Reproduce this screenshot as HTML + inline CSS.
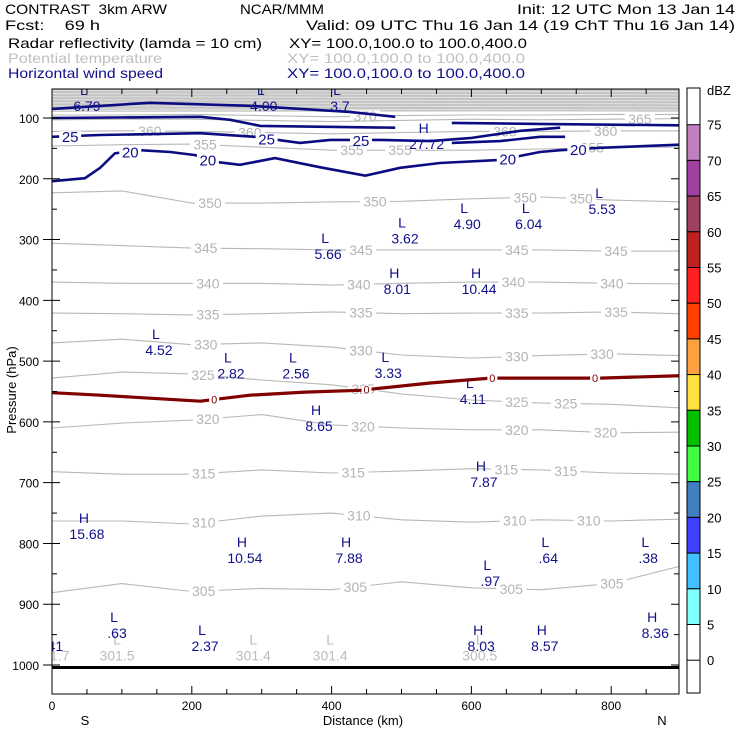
<!DOCTYPE html>
<html><head><meta charset="utf-8"><style>
html,body{margin:0;padding:0;background:#fff}
svg{display:block;font-family:"Liberation Sans",sans-serif}
text{white-space:pre}
</style></head><body>
<svg id="chart" width="740" height="740" viewBox="0 0 740 740" xmlns="http://www.w3.org/2000/svg">
<g font-size="14" fill="#000">
<text x="5" y="14" textLength="162" lengthAdjust="spacingAndGlyphs">CONTRAST  3km ARW</text>
<text x="240" y="14" textLength="84" lengthAdjust="spacingAndGlyphs">NCAR/MMM</text>
<text x="517" y="14" textLength="218" lengthAdjust="spacingAndGlyphs">Init: 12 UTC Mon 13 Jan 14</text>
<text x="5" y="30" textLength="95" lengthAdjust="spacingAndGlyphs">Fcst:    69 h</text>
<text x="306" y="30" textLength="429" lengthAdjust="spacingAndGlyphs">Valid: 09 UTC Thu 16 Jan 14 (19 ChT Thu 16 Jan 14)</text>
<text x="8" y="48" textLength="254" lengthAdjust="spacingAndGlyphs">Radar reflectivity (lamda = 10 cm)</text>
<text x="289" y="48" textLength="238" lengthAdjust="spacingAndGlyphs">XY= 100.0,100.0 to 100.0,400.0</text>
<text x="8" y="63" fill="#c0c0c0" textLength="154" lengthAdjust="spacingAndGlyphs">Potential temperature</text>
<text x="287" y="63" fill="#c0c0c0" textLength="238" lengthAdjust="spacingAndGlyphs">XY= 100.0,100.0 to 100.0,400.0</text>
<text x="8" y="78" fill="#10108c" textLength="155" lengthAdjust="spacingAndGlyphs">Horizontal wind speed</text>
<text x="287" y="78" fill="#10108c" textLength="238" lengthAdjust="spacingAndGlyphs">XY= 100.0,100.0 to 100.0,400.0</text>
</g>
<defs><clipPath id="plotclip"><rect x="52" y="89" width="627" height="605"/></clipPath></defs>
<g id="plot" clip-path="url(#plotclip)"></g>
<g id="axes"></g>
<g id="cbar"></g>
</svg>
<script>
// ---- data ----
const thetaD = [0,100,200,300,400,500,600,700,800,900];
const thetaLevels = [370,365,360,355,350,345,340,335,330,325,320,315,310,305];
const theta370 = [95,95,94,96,98,96,95,95,94,94];
const theta365 = [103,102,102,104,106,104,102,103,102,101];
const theta360 = [122,121,122,124,126,124,122,122,121,121];
const theta355 = [146,144,143,148,153,153,153,151,148,148];
const theta350 = [223,220,240,240,238,237,233,230,235,238];
const theta345 = [306,310,314,315,317,317,317,317,319,319];
const theta340 = [370,372,372,372,375,372,370,370,372,373];
const theta335 = [421,422,424,422,419,422,421,421,419,422];
const theta330 = [470,464,473,470,477,490,495,491,488,491];
const theta325 = [528,518,521,531,539,554,564,569,571,577];
const theta320 = [610,602,597,588,605,610,613,613,618,617];
const theta315 = [682,686,686,679,684,681,677,679,684,686];
const theta310 = [763,763,768,755,750,761,765,761,763,760];
const theta305 = [881,866,879,874,876,863,873,876,866,837];
const thetaLabelD = [[448],[841],[140,283,648,792],[219,429,498,773],[226,462,677,757],[220,442,665,807],[223,439,660,801],[223,442,665,807],[220,442,665,787],[216,445,665,735],[223,445,665,792],[217,431,650,735],[217,439,662,768],[217,434,657,801]];
const upperBandP = [55,60,65,70,75,80,85,88];
const wind20D = [0,47,69,90,126,169,205,233,269,319,383,448,498,555,641,698,727,784,898];
const wind20P = [204,199,182,158,153,156,161,172,177,166,181,195,182,174,169,156,153,149,144];
const wind20LabelD = [112,223,652,753];
const wind25D = [0,69,212,290,355,398,469,541,598,670,727];
const wind25P = [131,128,125,131,141,136,136,138,133,121,116];
const wind25LabelD = [26,307,442];
const wind30aD = [0,140,283,426,491];
const wind30aP = [85,75,80,90,98];
const wind30bD = [0,212,255,298,491];
const wind30bP = [100,98,103,113,116];
const wind30cD = [572,712,898];
const wind30cP = [108,110,112];
const wind30dD = [572,641,698,734];
const wind30dP = [141,138,131,131];
const dbz0D = [0,69,140,212,283,362,441,541,627,784,898];
const dbz0P = [552,556,561,566,556,551,548,536,528,528,524];
const dbz0LabelD = [232,450,630,777];
const surfaceP = 1004;
const extType = ["L","L","L","H","L","L","L","L","L","H","H","L","L","L","L","L","L","H","H","H","H","H","L","L","L","L","L","L","H","H","H"];
const extVal = ["6.79","4.00","3.7","27.72","5.53","6.04","4.90","3.62","5.66","8.01","10.44","62","4.52","2.82","2.56","3.33","4.11","8.65","7.87","15.68","10.54","7.88",".64",".38",".97",".63",".41","2.37","8.03","8.57","8.36"];
const extD = [50,303,412,536,787,682,594,505,395,494,611,-10,153,256,349,481,602,382,618,50,276,425,710,853,627,93,2,219,614,705,863];
const extP = [79,79,79,141,248,273,273,297,322,380,380,482,480,519,519,518,561,605,697,783,822,822,822,822,860,946,967,967,967,967,946];
const sfcVal = ["301.7","301.5","301.4","301.4","300.5"];
const sfcD = [0,93,288,398,612];
const sfcP = [983,983,983,983,983];
const pTicks = [100,200,300,400,500,600,700,800,900,1000];
const dTicks = [0,200,400,600,800];
const cbLevels = [75,70,65,60,55,50,45,40,35,30,25,20,15,10,5,0];
const cbColors = ["#c080c0","#a040a0","#a04060","#c02020","#ff2020","#ff4000","#ffa040","#ffe040","#00c000","#40ff40","#4080c0","#4040ff","#40c0ff","#80ffff","#ffffff"];

// ---- scales ----
const X = d => 52 + d*0.699;
const Y = p => 118 + (p-100)*0.6078;
const NS = "http://www.w3.org/2000/svg";
function mk(tag, parent, attrs){const e=document.createElementNS(NS,tag);for(const k in attrs)e.setAttribute(k,attrs[k]);parent.appendChild(e);return e;}
function interp(ds,ps,d){for(let i=0;i<ds.length-1;i++){if(d>=ds[i]&&d<=ds[i+1]){const t=(d-ds[i])/(ds[i+1]-ds[i]);return ps[i]+t*(ps[i+1]-ps[i]);}}return d<ds[0]?ps[0]:ps[ps.length-1];}
const pts=(ds,ps)=>ds.map((d,i)=>X(d).toFixed(1)+","+Y(ps[i]).toFixed(1)).join(" ");
const plot=document.getElementById("plot"), axes=document.getElementById("axes"), cbar=document.getElementById("cbar");

let bg=mk("rect",plot,{x:52,y:89,width:627,height:Y(90)-89,fill:"#c4c4c4"});


upperBandP.forEach(p=>{
  let l=mk("line",plot,{x1:52,x2:679,y1:Y(p),y2:Y(p)+1,stroke:p<90?"#e8e8e8":"#b8b8b8","stroke-width":0.8});
  
  
});

const thetaSeries=[theta370,theta365,theta360,theta355,theta350,theta345,theta340,theta335,theta330,theta325,theta320,theta315,theta310,theta305];
thetaSeries.forEach((ps,i)=>{
  let l=mk("polyline",plot,{points:pts(thetaD,ps),fill:"none",stroke:"#b8b8b8","stroke-width":1.1});
  
  
  thetaLabelD[i].forEach(d=>{
    const x=X(d), y=Y(interp(thetaD,ps,d));
    let r=mk("rect",plot,{x:x-15,y:y-6,width:30,height:12,fill:"#fff"});
    
    
    let t=mk("text",plot,{x:x,y:y+5,"font-size":14,"text-anchor":"middle",fill:"#b4b4b4"});
    t.textContent=thetaLevels[i];
    
    
  });
});

let sl=mk("line",plot,{x1:52,x2:679,y1:Y(surfaceP),y2:Y(surfaceP),stroke:"#000","stroke-width":3});



function windLine(ds,ps,name){
  let l=mk("polyline",plot,{points:pts(ds,ps),fill:"none",stroke:"#0c0c82","stroke-width":2.6});
  
  
}
windLine(wind20D,wind20P,'wind-contour-20');
windLine(wind25D,wind25P,'wind-contour-25');
windLine(wind30aD,wind30aP,'wind-contour-30a');
windLine(wind30bD,wind30bP,'wind-contour-30b');
windLine(wind30cD,wind30cP,'wind-contour-30c');
windLine(wind30dD,wind30dP,'wind-contour-30d');
function windLabels(ds,ps,lab,txt){
  lab.forEach(d=>{
    const x=X(d), y=Y(interp(ds,ps,d));
    let r=mk("rect",plot,{x:x-11,y:y-5,width:22,height:10,fill:"#fff"});
    
    
    let t=mk("text",plot,{x:x,y:y+6,"font-size":15,"text-anchor":"middle",fill:"#10108c"});
    t.textContent=txt;
    
    
  });
}
windLabels(wind20D,wind20P,wind20LabelD,"20");
windLabels(wind25D,wind25P,wind25LabelD,"25");

let dl=mk("polyline",plot,{points:pts(dbz0D,dbz0P),fill:"none",stroke:"#800000","stroke-width":3.2});


dbz0LabelD.forEach(d=>{
  const x=X(d), y=Y(interp(dbz0D,dbz0P,d));
  let r=mk("rect",plot,{x:x-5,y:y-4,width:10,height:8,fill:"#fff"});
  
  
  let t=mk("text",plot,{x:x,y:y+4,"font-size":11,"text-anchor":"middle",fill:"#800000"});
  t.textContent="0";
  
  
});

sfcVal.forEach((v,i)=>{
  const x=X(sfcD[i]), y=Y(sfcP[i]);
  let t1=mk("text",plot,{x:x,y:y-10,"font-size":14,"text-anchor":"middle",fill:"#bcbcbc"});
  t1.textContent="L";
  
  
  let t2=mk("text",plot,{x:x,y:y+6,"font-size":14,"text-anchor":"middle",fill:"#bcbcbc"});
  t2.textContent=v;
  
  
});

extVal.forEach((v,i)=>{
  const x=X(extD[i]), y=Y(extP[i]);
  let t1=mk("text",plot,{x:x-3,y:y-10,"font-size":14,"text-anchor":"middle",fill:"#10108c"});
  t1.textContent=extType[i];
  
  
  let t2=mk("text",plot,{x:x,y:y+6,"font-size":14,"text-anchor":"middle",fill:"#10108c"});
  t2.textContent=v;
  
  
});

let fr=mk("rect",axes,{x:52,y:89,width:627,height:605,fill:"none",stroke:"#000","stroke-width":1});


for(let p=100;p<=1000;p+=50){
  const y=Y(p), major=p%100===0;
  let a=mk("line",axes,{x1:major?43:52,x2:major?60:57,y1:y,y2:y,stroke:"#000"});
  
  
  let b=mk("line",axes,{x1:major?671:674,x2:679,y1:y,y2:y,stroke:"#000"});
  
  
}
pTicks.forEach(p=>{
  let t=mk("text",axes,{x:39,y:Y(p)+5,"font-size":12,"text-anchor":"end",fill:"#000"});
  t.textContent=p;
  
  
});
for(let d=0;d<=850;d+=50){
  const x=X(d), len=d%200===0?8:5;
  let a=mk("line",axes,{x1:x,x2:x,y1:694,y2:694-len,stroke:"#000"});
  
  
  let b=mk("line",axes,{x1:x,x2:x,y1:89,y2:89+len,stroke:"#000"});
  
  
}
dTicks.forEach(d=>{
  let t=mk("text",axes,{x:X(d),y:710,"font-size":12,"text-anchor":"middle",fill:"#000"});
  t.textContent=d;
  
  
});
[["S",85,"south-label"],["N",662,"north-label"]].forEach(s=>{
  let t=mk("text",axes,{x:s[1],y:725,"font-size":13,"text-anchor":"middle",fill:"#000"});
  t.textContent=s[0];
  
  
});
let xt=mk("text",axes,{x:363,y:725,"font-size":13,"text-anchor":"middle",fill:"#000"});
xt.textContent="Distance (km)";


let yt=mk("text",axes,{x:0,y:0,"font-size":13,"text-anchor":"middle",fill:"#000",transform:"translate(16,390) rotate(-90)"});
yt.textContent="Pressure (hPa)";



const cbTop=124.7, cbStep=35.7;
let cbf=mk("rect",cbar,{x:687,y:88,width:13,height:605,fill:"#fff",stroke:"#000"});


cbColors.forEach((c,i)=>{
  let r=mk("rect",cbar,{x:687,y:cbTop+i*cbStep,width:13,height:cbStep,fill:c,stroke:"#000","stroke-width":1});
  
  
});
cbLevels.forEach((v,i)=>{
  let t=mk("text",cbar,{x:707,y:cbTop+i*cbStep+5,"font-size":13,fill:"#000"});
  t.textContent=v;
  
  
});
let du=mk("text",cbar,{x:707,y:95,"font-size":13,fill:"#000"});
du.textContent="dBZ";


</script>
</body></html>
